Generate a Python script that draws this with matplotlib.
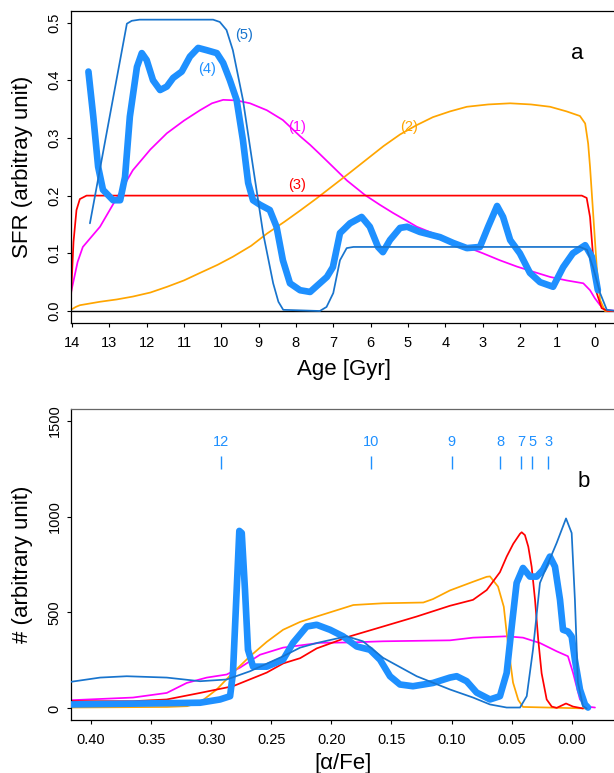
import matplotlib
matplotlib.use('Agg')
import matplotlib.pyplot as plt

plt.rcParams['font.family'] = ['Liberation Sans', 'DejaVu Sans']

# ---------------- Panel a: SFR vs age ----------------
age1 = [14.03, 13.85, 13.71, 13.50, 13.25, 12.80, 12.37, 11.90, 11.46, 11.00, 10.57, 10.25, 9.95, 9.59,
        9.23, 8.78, 8.35, 7.89, 7.62, 7.36, 7.01, 6.63, 6.15, 5.75, 5.40, 5.05, 4.76, 4.30, 3.87, 3.43,
        2.99, 2.54, 2.08, 1.64, 1.19, 0.75, 0.30, 0.12, -0.01, -0.15, -0.28, -0.60]
sfr1 = [0.031, 0.085, 0.111, 0.127, 0.146, 0.196, 0.244, 0.280, 0.308, 0.330, 0.348, 0.360, 0.366, 0.365,
        0.360, 0.348, 0.331, 0.303, 0.288, 0.272, 0.250, 0.226, 0.201, 0.184, 0.170, 0.157, 0.146, 0.134,
        0.123, 0.111, 0.100, 0.088, 0.077, 0.068, 0.059, 0.053, 0.048, 0.036, 0.022, 0.010, 0.002, 0.0]

age2 = [14.03, 13.90, 13.79, 13.25, 12.80, 12.37, 11.90, 11.45, 11.00, 10.57, 10.10, 9.69, 9.20, 8.78,
        8.30, 7.89, 7.45, 7.01, 6.55, 6.10, 5.65, 5.21, 4.77, 4.33, 3.87, 3.42, 2.85, 2.26, 1.70, 1.19,
        0.75, 0.39, 0.25, 0.17, 0.12, 0.03, -0.06, -0.15, -0.28, -0.60]
sfr2 = [0.002, 0.007, 0.010, 0.016, 0.020, 0.025, 0.032, 0.042, 0.053, 0.066, 0.080, 0.094, 0.113, 0.134,
        0.155, 0.174, 0.195, 0.217, 0.240, 0.263, 0.286, 0.306, 0.322, 0.336, 0.346, 0.354, 0.358, 0.360,
        0.358, 0.354, 0.346, 0.338, 0.325, 0.290, 0.250, 0.163, 0.076, 0.019, 0.0, 0.0]

age3 = [14.03, 13.96, 13.88, 13.79, 13.61, 0.34, 0.21, 0.12, 0.03, -0.06, -0.19, -0.35, -0.60]
sfr3 = [0.020, 0.120, 0.175, 0.194, 0.200, 0.200, 0.196, 0.163, 0.088, 0.031, 0.005, 0.0, 0.0]

age4 = [13.56, 13.43, 13.30, 13.17, 12.90, 12.71, 12.58, 12.45, 12.26, 12.13, 12.00, 11.83, 11.64, 11.46,
        11.29, 11.06, 10.84, 10.62, 10.39, 10.12, 9.95, 9.77, 9.59, 9.42, 9.28, 9.15, 8.96, 8.70, 8.52,
        8.35, 8.16, 7.89, 7.62, 7.17, 7.01, 6.82, 6.55, 6.24, 6.02, 5.80, 5.67, 5.48, 5.21, 5.02, 4.68,
        4.14, 3.79, 3.42, 3.07, 2.85, 2.61, 2.45, 2.26, 2.00, 1.73, 1.46, 1.11, 0.84, 0.58, 0.25, 0.07, -0.09]
sfr4 = [0.415, 0.337, 0.250, 0.210, 0.192, 0.192, 0.232, 0.337, 0.423, 0.447, 0.435, 0.400, 0.383, 0.389,
        0.404, 0.415, 0.441, 0.456, 0.452, 0.447, 0.430, 0.400, 0.366, 0.296, 0.222, 0.192, 0.184, 0.175, 0.146,
        0.088, 0.048, 0.036, 0.033, 0.059, 0.076, 0.135, 0.152, 0.163, 0.146, 0.111, 0.102, 0.123, 0.144, 0.146, 0.137,
        0.128, 0.118, 0.109, 0.111, 0.146, 0.182, 0.163, 0.123, 0.100, 0.066, 0.050, 0.042, 0.076, 0.100, 0.114, 0.094, 0.036]

age5 = [13.52, 12.53, 12.40, 12.19, 10.22, 10.04, 9.86, 9.69, 9.42, 9.15, 8.88, 8.61, 8.47, 8.34, 7.36,
        7.18, 7.00, 6.82, 6.64, 6.46, 0.39, 0.20, 0.04, -0.15, -0.33, -0.60]
sfr5 = [0.152, 0.498, 0.503, 0.505, 0.505, 0.501, 0.487, 0.452, 0.366, 0.250, 0.135, 0.048, 0.016, 0.002, 0.0,
        0.007, 0.031, 0.088, 0.109, 0.111, 0.111, 0.106, 0.076, 0.031, 0.002, 0.0]

labels_a = ['(1)', '(2)', '(3)', '(4)', '(5)']
label_age = [7.97, 4.97, 7.97, 10.39, 9.39]
label_sfr = [0.319, 0.319, 0.218, 0.419, 0.478]

age_ticks = list(range(14, -1, -1))
sfr_ticks = [0.0, 0.1, 0.2, 0.3, 0.4, 0.5]

# ---------------- Panel b: [alpha/Fe] distribution ----------------
afe1 = [0.4167, 0.3651, 0.337, 0.3204, 0.3037, 0.2871, 0.276, 0.2594, 0.2402, 0.2095, 0.1845, 0.157,
        0.1013, 0.0821, 0.0541, 0.0405, 0.0264, 0.0125, 0.0031, -0.0011, -0.0069, -0.0125, -0.0194]
n1 = [43, 57, 81, 133, 161, 177, 213, 280, 317, 342, 344, 350,
      355, 369, 376, 369, 341, 298, 272, 187, 47, 10, 5]

afe2 = [0.4167, 0.337, 0.32, 0.3093, 0.2954, 0.2819, 0.2677, 0.2538, 0.2402, 0.226, 0.2122, 0.1817,
        0.157, 0.1235, 0.1154, 0.1013, 0.0821, 0.0707, 0.068, 0.0613, 0.0565, 0.0541, 0.0513, 0.0488,
        0.0444, 0.0405, -0.0136]
n2 = [5, 8, 12, 32, 99, 187, 272, 347, 410, 451, 479, 539,
      548, 552, 570, 615, 660, 686, 688, 635, 530, 394, 253, 135,
      44, 8, 0]

afe3 = [0.4167, 0.3651, 0.337, 0.3093, 0.2819, 0.2538, 0.24, 0.226, 0.2122, 0.1845, 0.157, 0.129, 0.1013,
        0.0821, 0.0707, 0.0597, 0.0541, 0.0486, 0.043, 0.0416, 0.0389, 0.0361, 0.0333, 0.0305, 0.0278,
        0.025, 0.0208, 0.0166, 0.0125, 0.0047, -0.0011, -0.0094]
n3 = [38, 38, 47, 81, 116, 187, 235, 262, 313, 376, 427, 479, 535,
      566, 617, 710, 791, 858, 910, 918, 903, 843, 738, 566, 357,
      183, 47, 10, 3, 26, 10, 0]

afe4 = [0.4167, 0.3093, 0.2927, 0.2843, 0.2819, 0.2788, 0.2766, 0.2746, 0.2719, 0.2694, 0.2652, 0.2538,
        0.2402, 0.2319, 0.2205, 0.2122, 0.2011, 0.1903, 0.1789, 0.1679, 0.1595, 0.1512, 0.1429, 0.1321,
        0.1154, 0.1013, 0.0957, 0.0874, 0.0791, 0.0680, 0.0597, 0.0541, 0.0499, 0.0458, 0.0405, 0.0347,
        0.0291, 0.0239, 0.0181, 0.0139, 0.0097, 0.0072, 0.0031, 0.0, -0.0027, -0.0069, -0.0111, -0.0136]
n4 = [21, 30, 47, 64, 185, 618, 925, 914, 618, 306, 218, 218,
      254, 342, 427, 436, 410, 376, 323, 306, 254, 168, 125, 116,
      133, 161, 168, 142, 83, 47, 64, 185, 427, 654, 732, 687,
      687, 722, 791, 739, 566, 410, 401, 375, 254, 99, 21, 5]

afe5 = [0.4167, 0.3925, 0.3703, 0.337, 0.3093, 0.2871, 0.2677, 0.2402, 0.226, 0.2122, 0.1872, 0.1737,
        0.157, 0.129, 0.1013, 0.0821, 0.068, 0.0541, 0.043, 0.0374, 0.0322, 0.0264, 0.0208, 0.0125,
        0.0047, 0.0, -0.0027, -0.0052, -0.0094, -0.0125]
n5 = [139, 161, 168, 161, 142, 151, 194, 272, 317, 341, 376, 350,
      264, 168, 99, 57, 21, 5, 5, 64, 306, 654, 739, 862,
      990, 914, 566, 135, 12, 0]

age_labels_b = ['12', '10', '9', '8', '7', '5', '3']
afe_label_pos = [0.2917, 0.1673, 0.0999, 0.0594, 0.0422, 0.0328, 0.0195]

afe_ticks = [0.40, 0.35, 0.30, 0.25, 0.20, 0.15, 0.10, 0.05, 0.00]
n_ticks = [0, 500, 1000, 1500]

# ---------------- styles ----------------
C1, C2, C3, C4, C5 = '#FF00FF', '#FFA500', '#FF0000', '#1E90FF', '#1874CD'
TFS = 10.5
LFS = 16
thin = 1.25
thick = 4.8
lkw = dict(solid_joinstyle='round', solid_capstyle='round')

fig = plt.figure(figsize=(6.14, 7.73), dpi=100)

# Panel a
axa = fig.add_axes([0.11564, 0.58254, 0.88762, 0.40323])
axa.plot(age1, sfr1, color=C1, lw=thin, zorder=2, **lkw)
axa.plot(age2, sfr2, color=C2, lw=thin, zorder=2, **lkw)
axa.plot(age3, sfr3, color=C3, lw=thin, zorder=2, **lkw)
axa.plot(age4, sfr4, color=C4, lw=thick, zorder=3, **lkw)
axa.plot(age5, sfr5, color=C5, lw=thin, zorder=4, **lkw)
axa.axhline(0, color='black', lw=1.0, zorder=1)
for t, a, s, c in zip(labels_a, label_age, label_sfr, [C1, C2, C3, C4, C5]):
    axa.text(a, s, t, color=c, fontsize=TFS, ha='center', va='center')
axa.text(0.46, 0.437, 'a', fontsize=LFS, ha='center', va='baseline')
axa.set_xlim(14.027, -0.576)
axa.set_ylim(-0.0203, 0.52)
axa.set_xticks(age_ticks)
axa.set_xticklabels([str(t) for t in age_ticks])
axa.set_yticks(sfr_ticks)
axa.set_yticklabels(['%.1f' % t for t in sfr_ticks])
axa.set_xlabel('Age [Gyr]', fontsize=LFS)
axa.set_ylabel('SFR (arbitray unit)', fontsize=LFS)

# Panel b
axb = fig.add_axes([0.11564, 0.06856, 0.88762, 0.40233])
axb.plot(afe1, n1, color=C1, lw=thin, zorder=2, **lkw)
axb.plot(afe2, n2, color=C2, lw=thin, zorder=2, **lkw)
axb.plot(afe3, n3, color=C3, lw=thin, zorder=2, **lkw)
axb.plot(afe4, n4, color=C4, lw=thick, zorder=3, **lkw)
axb.plot(afe5, n5, color=C5, lw=thin, zorder=4, **lkw)
for t, x in zip(age_labels_b, afe_label_pos):
    axb.text(x, 1390, t, color=C4, fontsize=TFS, ha='center', va='center')
axb.vlines(afe_label_pos, 1248, 1317, color=C4, lw=1.0)
axb.text(-0.0097, 1155, 'b', fontsize=LFS, ha='center', va='baseline')
axb.set_xlim(0.4167, -0.0369)
axb.set_ylim(-60, 1560)
axb.set_xticks(afe_ticks)
axb.set_xticklabels(['%.2f' % t for t in afe_ticks])
axb.set_yticks(n_ticks)
axb.set_yticklabels([str(t) for t in n_ticks])
axb.set_xlabel('[\u03b1/Fe]', fontsize=LFS)
axb.set_ylabel('# (arbitrary unit)', fontsize=LFS)

for ax, xlab_y in ((axa, -0.115), (axb, -0.106)):
    for sp in ax.spines.values():
        sp.set_linewidth(0.9)
        sp.set_color('black')
    ax.tick_params(axis='both', direction='out', length=3.1, width=0.8, labelsize=TFS)
    ax.tick_params(axis='x', pad=6.5)
    ax.tick_params(axis='y', pad=3.8, labelrotation=90)
    for lbl in ax.get_yticklabels():
        lbl.set_verticalalignment('center')
    ax.xaxis.set_label_coords(0.5, xlab_y)
    ax.yaxis.set_label_coords(-0.0692, 0.5)
axb.spines['top'].set_color('#666666')

fig.savefig('out.png', dpi=100)
